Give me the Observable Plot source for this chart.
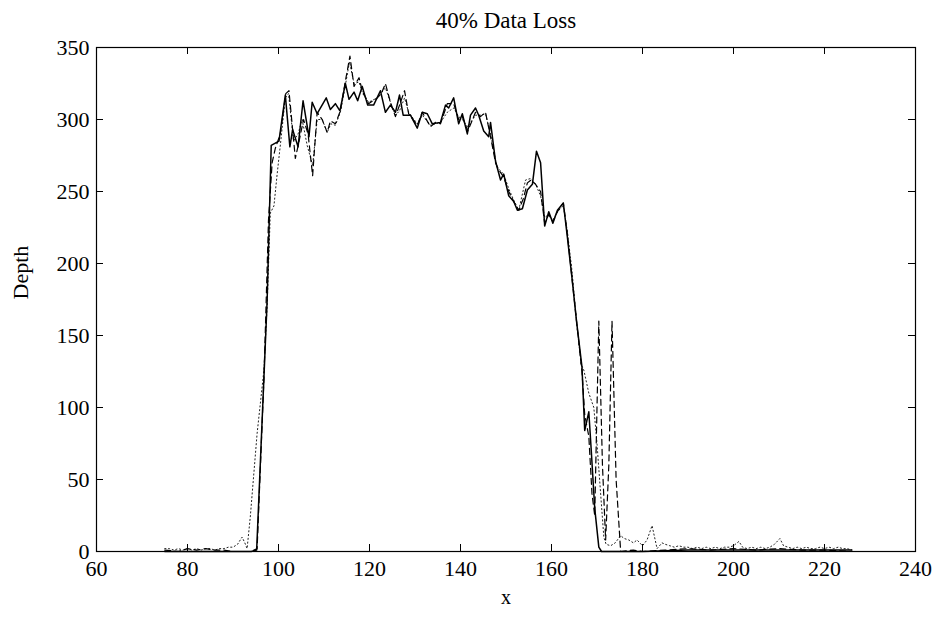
<!DOCTYPE html>
<html>
<head>
<meta charset="utf-8">
<script src="https://cdn.jsdelivr.net/npm/d3@7"></script>
<script src="https://cdn.jsdelivr.net/npm/@observablehq/plot@0.6"></script>
<style>
  body { margin: 0; background: white; }
</style>
</head>
<body>
<div id="chart"></div>
<script>
const title = "40% Data Loss";
const xLabel = "x";
const yLabel = "Depth";
const xTicks = [60, 80, 100, 120, 140, 160, 180, 200, 220, 240];
const yTicks = [0, 50, 100, 150, 200, 250, 300, 350];

// Solid series
const solidX = [75,80,85,90,94,95.2,96.8,97.5,98.4,100.1,101.5,102.5,103.1,104.3,105.4,106.7,107.4,108.5,110.5,111.4,112.5,113.5,114.7,115.5,116.6,117.4,118.4,119.6,120.9,122.4,123.5,124.6,125.7,126.6,127.4,129,130.5,131.6,132.7,133.8,135.6,136.7,137.4,138.5,139.6,140.4,141.5,142.2,143.3,144,145.1,146.2,146.6,147.7,148.8,149.5,150.6,151.7,152.5,153.6,154.7,155.8,156.7,157.6,158.5,159.4,160.3,161.3,162.6,163.5,164.5,165.5,166.7,167.3,168.2,168.7,169.5,170.4,171,175,180,190,200,210,220,226];
const solidY = [0,0,0,0,0,1,121,174,282,285,317,281,293,281,313,288,312,304,315,307,311,306,325,314,319,313,323,310,310,320,305,310,305,317,303,303,294,305,304,297,298,310,308,315,297,304,290,303,308,303,292,288,298,271,258,262,247,243,237,238,251,255,278,270,226,236,228,237,242,218,190,160,128,84,97,72,30,3,0,0,0,1,1,1,1,1];

// Dashed series
const dashedX = [75,78,80,82,84,86,88,90,94,95.3,96.8,97.8,98.6,99.3,100.4,101.6,102.3,103.7,104.4,105.5,106.5,107.5,108.5,109.6,110.7,111.4,112.5,113.6,114.6,115.7,116.6,117.7,118.4,119.8,121.7,122.6,123.5,124.6,125.7,126.6,127.7,128.6,130.5,131.6,133.4,134.5,135.6,137.1,138.5,139.6,140.4,141.6,143.3,144.4,145.5,146.6,147.7,148.4,149.5,150.6,151.7,152.8,153.8,154.7,155.5,156.5,157.6,158.5,159.4,160.3,161.3,162.6,163.5,164.5,165.5,166.7,167.3,168.2,168.9,169.5,170.4,171.2,171.9,172.6,173.3,174.2,175.2,178,180,185,190,195,200,205,210,215,220,226];
const dashedY = [1,0,2,1,2,1,1,0,0,2,120,230,270,280,290,318,320,273,283,300,290,261,305,300,291,299,297,306,325,344,323,329,320,311,315,318,325,312,302,310,320,304,296,305,295,298,297,311,311,300,302,292,305,302,305,288,270,265,260,250,243,237,245,256,258,255,250,228,234,229,236,242,220,190,160,125,95,80,40,25,160,60,8,60,160,50,0,1,0,1,2,1,2,1,2,1,1,0];

// Dotted series
const dottedX = [75,76,77,78,79,80,81,82,83,84,85,86,87,88,89,90,91,92,92.6,93.1,93.8,95.3,96.8,97.5,98.2,99,99.7,100.5,101.5,102.2,103.3,104.3,105.2,106.3,107.5,108.5,109.6,110.7,111.5,112.5,113.6,114.6,115.6,116.6,117.7,118.5,119.8,121.7,123.5,124.6,125.7,126.6,127.7,128.6,130.5,131.6,133.4,135.6,137.1,138.5,139.6,140.4,141.6,143.3,144.4,145.5,146.6,148,149.5,150.6,151.7,152.8,154.3,155.4,156.5,157.6,158.5,159.4,160.3,161.3,162.6,163.5,164.5,165.5,166.5,167.1,168.2,169.3,170,170.8,171.5,172,173,174,175.2,176,177,178,178.8,180,181,182.1,183.2,184.3,185,186,187,188,189,190,191,192,193,194,195,196,197,198,199,200,201.2,202,203,204,205,206,207,208,209,210.2,211,212,213,214,215,216,217,218,219,220,221,222,223,224,225,226];
const dottedY = [2,2,1,2,1,2,1,2,1,2,2,1,2,2,3,3,5,10,6,2,24,82,126,170,235,240,262,285,315,318,285,290,300,282,268,300,300,291,297,296,305,322,340,325,326,318,312,315,322,312,303,306,315,305,297,303,296,298,305,308,302,300,295,303,303,304,290,267,262,252,244,237,258,259,255,247,232,234,230,236,240,222,195,160,130,126,110,100,75,40,10,5,4,6,11,9,8,6,8,4,8,18,2,6,5,4,3,4,3,3,2,3,2,3,2,3,2,3,3,4,7,3,2,3,2,3,2,3,5,9,4,3,2,3,2,3,2,2,3,2,3,2,3,2,2,1];

const toRows = (xs, ys) => xs.map((x, i) => ({x, y: ys[i]}));

const xTickLen = 7 / 4.55;   // 7px in x units
const yTickLen = 7 / 1.44;   // 7px in y units

const chart = Plot.plot({
  width: 933,
  height: 627,
  marginLeft: 96,
  marginRight: 18,
  marginTop: 47,
  marginBottom: 76,
  x: {domain: [60, 240], ticks: xTicks, label: null},
  y: {domain: [0, 350], ticks: yTicks, label: null},
  style: {fontFamily: "'Liberation Serif', 'DejaVu Serif', serif", fontSize: "22px", background: "white", color: "black"},
  marks: [
    Plot.line(toRows(dottedX, dottedY), {x: "x", y: "y", stroke: "#222", strokeWidth: 1, strokeDasharray: "1.2,2.6"}),
    Plot.line(toRows(dashedX, dashedY), {x: "x", y: "y", stroke: "black", strokeWidth: 1.2, strokeDasharray: "6,4"}),
    Plot.line(toRows(solidX, solidY), {x: "x", y: "y", stroke: "black", strokeWidth: 1.5}),
    Plot.frame({stroke: "black", strokeWidth: 1.2}),
    Plot.ruleX(xTicks, {x: d => d, y1: 0, y2: yTickLen, stroke: "black"}),
    Plot.ruleX(xTicks, {x: d => d, y1: 350 - yTickLen, y2: 350, stroke: "black"}),
    Plot.ruleY(yTicks, {y: d => d, x1: 60, x2: 60 + xTickLen, stroke: "black"}),
    Plot.ruleY(yTicks, {y: d => d, x1: 240 - xTickLen, x2: 240, stroke: "black"}),
    Plot.axisX(xTicks, {tickSize: 0, tickPadding: 9, fontSize: 22, label: null}),
    Plot.axisY(yTicks, {tickSize: 0, tickPadding: 7, fontSize: 22, label: null}),
    Plot.text([title], {frameAnchor: "top", dy: -36, fontSize: 23}),
    Plot.text([yLabel], {frameAnchor: "left", dx: -76, rotate: -90, fontSize: 22}),
    Plot.text([xLabel], {frameAnchor: "bottom", dy: 52, fontSize: 20})
  ]
});

document.getElementById("chart").appendChild(chart);
</script>
</body>
</html>
